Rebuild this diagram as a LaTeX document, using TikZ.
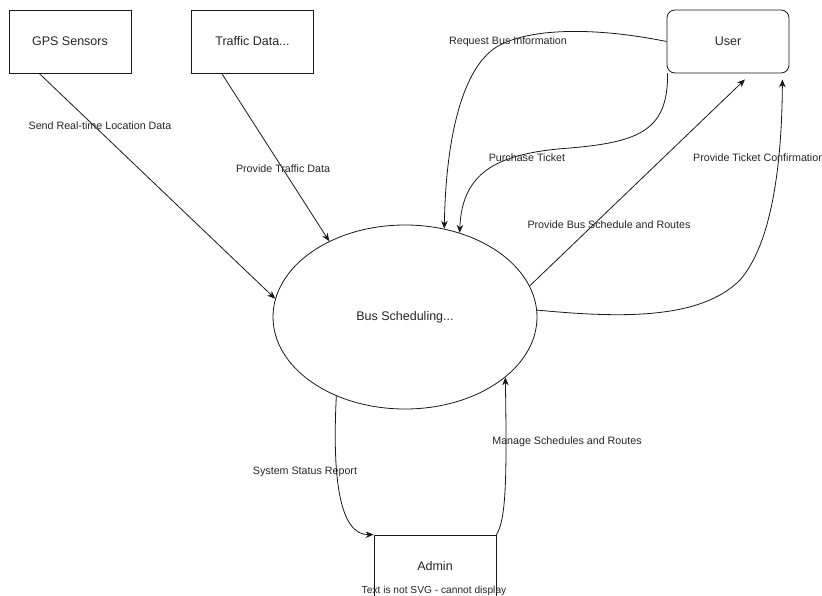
\documentclass[tikz,border=0pt]{standalone}
\usepackage{fontspec}
\setmainfont{Liberation Sans}
\usetikzlibrary{arrows.meta,calc,shapes.geometric}
\begin{document}
\begin{tikzpicture}[x=1pt,y=1pt,
  box/.style={draw=black!90, line width=0.8pt, minimum width=122pt, minimum height=63pt, inner sep=0pt, text=black!85, font=\fontsize{12.5}{14}\selectfont},
  lbl/.style={font=\fontsize{10.7}{12}\selectfont, inner sep=0pt, text=black!85},
  flow/.style={draw=black!90, line width=0.8pt, -{Stealth[length=8pt,width=6.5pt]}},
  plain/.style={draw=black!90, line width=0.8pt}]
\useasboundingbox (0,0) rectangle (822,-595);
\clip (0,0) rectangle (822,-595);
\fill[white] (0,0) rectangle (822,-595);
% nodes
\node[box] (gps) at (70,-41.5) {GPS Sensors};
\node[box] (traffic) at (252.5,-41.5) {Traffic Data...};
\node[box, rounded corners=8pt] (user) at (728,-41.5) {User};
\node[draw=black!90, line width=0.8pt, ellipse, minimum width=264pt, minimum height=184pt, inner sep=0pt, text=black!85, font=\fontsize{12.5}{14}\selectfont] (bus) at (405,-317) {Bus Scheduling...};
\node[box] (admin) at (435,-566.5) {Admin};
\node[font=\fontsize{10.2}{12}\selectfont, inner sep=0pt, text=black!85] (nosvg) at (434,-591) {Text is not SVG - cannot display};
% connectors
\draw[flow] (gps.226) -- (bus.172);
\draw[flow] (traffic.226) -- (bus.135);
\draw[flow] (user.west) .. controls (600,-28) and (535,-27) .. (500,-45) .. controls (465,-63) and (446,-130) .. (bus.66);
\draw[flow] ($(user.south west)+(1,0)$) .. controls (668,-130) and (640,-142) .. (570,-148) .. controls (500,-153) and (462,-170) .. (bus.57);
\draw[flow] (bus.14) -- ($(user.south)+(17,-6)$);
\draw[flow] (bus.3) .. controls (620,-318) and (700,-320) .. (740,-280) .. controls (775,-240) and (782,-150) .. ($(user.south east)+(-7,-6)$);
\draw[flow] (bus.229) .. controls (332,-480) and (340,-535) .. (admin.north west);
\draw[flow] (admin.north east) .. controls (506,-520) and (507,-480) .. (bus.329);
% labels
\node[lbl] (l1) at (100,-126) {Send Real-time Location Data};
\node[lbl] (l2) at (283,-169) {Provide Traffic Data};
\node[lbl] (l3) at (508,-42) {Request Bus Information};
\node[lbl] (l4) at (527,-158) {Purchase Ticket};
\node[lbl, anchor=west] (l5) at (693,-158) {Provide Ticket Confirmation};
\node[lbl] (l6) at (609,-225) {Provide Bus Schedule and Routes};
\node[lbl] (l7) at (567,-442) {Manage Schedules and Routes};
\node[lbl] (l8) at (305,-472) {System Status Report};
\end{tikzpicture}
\end{document}
